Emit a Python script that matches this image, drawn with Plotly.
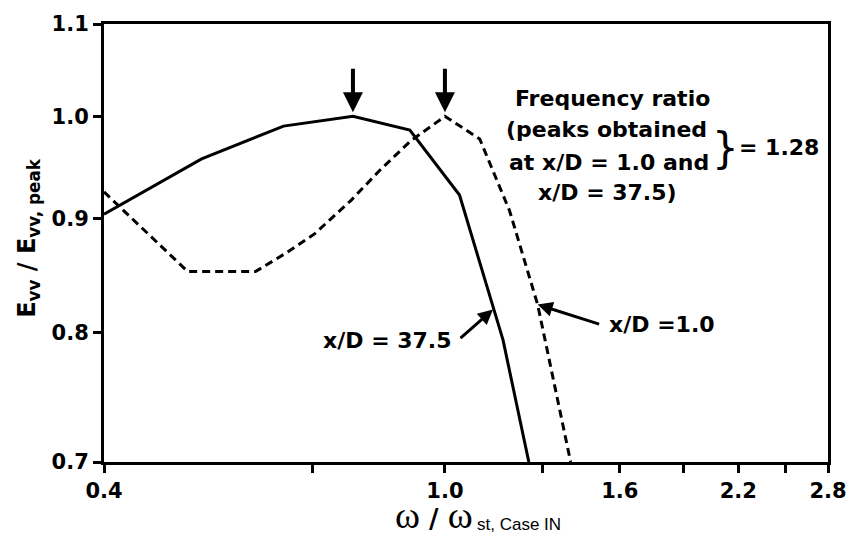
import math
import plotly.graph_objects as go

# ---- data ----
x_solid = [0.40, 0.52, 0.648, 0.781, 0.91, 1.04, 1.169, 1.253]
y_solid = [0.904, 0.957, 0.990, 1.000, 0.986, 0.922, 0.794, 0.700]

x_dash = [0.40, 0.501, 0.601, 0.651, 0.705, 0.777, 0.842, 0.912, 1.0, 1.098, 1.19, 1.283, 1.402]
y_dash = [0.925, 0.852, 0.852, 0.868, 0.886, 0.917, 0.947, 0.975, 1.0, 0.977, 0.907, 0.8235, 0.700]

x_tickvals = [0.4, 0.7, 1.0, 1.3, 1.6, 1.9, 2.2, 2.5, 2.8]
x_ticktext = ["0.4", "", "1.0", "", "1.6", "", "2.2", "", "2.8"]
y_tickvals = [0.7, 0.8, 0.9, 1.0, 1.1]
y_ticktext = ["0.7", "0.8", "0.9", "1.0", "1.1"]

peak_solid = (0.781, 1.0)
peak_dash = (1.0, 1.0)
arrow_tip_dash = (1.283, 0.8235)
arrow_tip_solid = (1.138, 0.8193)

BOLD = "DejaVu Sans"
L = math.log10

fig = go.Figure()
fig.add_trace(go.Scatter(x=x_solid, y=y_solid, mode="lines",
                         line=dict(color="black", width=3), showlegend=False))
fig.add_trace(go.Scatter(x=x_dash, y=y_dash, mode="lines",
                         line=dict(color="black", width=3, dash="8px,5px"), showlegend=False))

axis_common = dict(showline=True, linecolor="black", linewidth=3, mirror=True,
                   ticks="outside", ticklen=8, tickwidth=2.5, tickcolor="black",
                   showgrid=False, zeroline=False,
                   tickfont=dict(family=BOLD, size=21, color="black", weight="bold"))

fig.update_xaxes(type="log", range=[L(0.4), L(2.8)], tickvals=x_tickvals,
                 ticktext=x_ticktext, **axis_common)
fig.update_yaxes(type="log", range=[L(0.7), L(1.1)], tickvals=y_tickvals,
                 ticktext=y_ticktext, **axis_common)

ann = []
# peak arrows
for (px, py) in [peak_solid, peak_dash]:
    ann.append(dict(x=L(px), y=L(py), xref="x", yref="y", text="", showarrow=True,
                    ax=0, ay=-49, arrowhead=2, arrowsize=1, arrowwidth=4,
                    arrowcolor="black", standoff=4))
# line-label arrows
ann.append(dict(x=L(arrow_tip_dash[0]), y=L(arrow_tip_dash[1]), xref="x", yref="y",
                text="", showarrow=True, ax=63, ay=20, arrowhead=2, arrowsize=1,
                arrowwidth=3, arrowcolor="black"))
ann.append(dict(x=L(arrow_tip_solid[0]), y=L(arrow_tip_solid[1]), xref="x", yref="y",
                text="", showarrow=True, ax=-34, ay=30, arrowhead=2, arrowsize=1,
                arrowwidth=3, arrowcolor="black"))

W0, H0 = 104.0, 462.0
PW, PH = 731.0, 446.0


def px2paper(px, py):
    return (px - W0) / PW, (H0 - py) / PH


def label(text, px, py, size=22, xanchor="center", family=BOLD, weight="bold"):
    xp, yp = px2paper(px, py)
    ann.append(dict(x=xp, y=yp, xref="paper", yref="paper", text=text, showarrow=False,
                    xanchor=xanchor, yanchor="middle",
                    font=dict(family=family, size=size, color="black", weight=weight)))


label("Frequency ratio", 617, 92)
label("(peaks obtained", 611, 123)
label("at x/D = 1.0 and", 614, 157)
label("x/D = 37.5)", 612, 188)
label("}", 732, 143, size=42, weight="normal")
label("= 1.28", 786, 142)
label("x/D =1.0", 667, 322)
label("x/D = 37.5", 457, 338, xanchor="right")

# axis titles
xp, yp = px2paper(437.5, 516)
ann.append(dict(x=xp, y=yp, xref="paper", yref="paper", showarrow=False,
                xanchor="center", yanchor="middle",
                text="<span style='font-family:Liberation Serif'>ω</span>"
                     "<span style='font-family:DejaVu Sans;font-weight:bold;font-size:26px'> / </span>"
                     "<span style='font-family:Liberation Serif'>ω</span>",
                font=dict(family="Liberation Serif", size=38, color="black")))
label("st, Case IN", 479, 526, size=17, xanchor="left", family="Liberation Sans", weight="normal")

xp, yp = px2paper(27, 234)
ann.append(dict(x=xp, y=yp, xref="paper", yref="paper", showarrow=False,
                xanchor="center", yanchor="middle", textangle=-90,
                text="E<sub>vv</sub> / E<sub>vv, peak</sub>",
                font=dict(family=BOLD, size=24, color="black", weight="bold")))

fig.update_layout(width=859, height=538, margin=dict(l=104, r=24, t=16, b=76),
                  plot_bgcolor="white", paper_bgcolor="white", annotations=ann)

fig.write_html("out.html")
